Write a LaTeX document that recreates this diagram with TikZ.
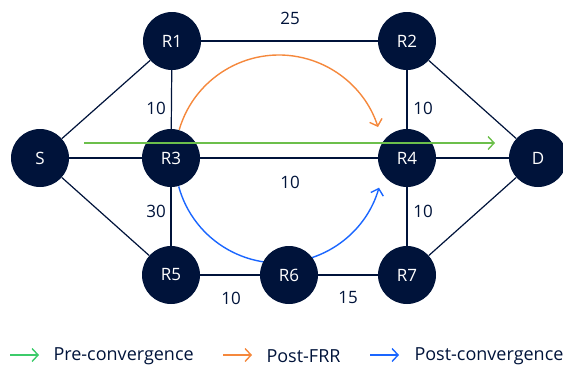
\documentclass[tikz,border=0pt]{standalone}
\usepackage{fontspec}
\setmainfont{Open Sans}
\usetikzlibrary{arrows.meta}
\definecolor{navy}{HTML}{00133A}
\definecolor{pregreen}{HTML}{6CBF4B}
\definecolor{leggreen}{HTML}{3CCB6A}
\definecolor{frrorange}{HTML}{F5883C}
\definecolor{convblue}{HTML}{1A66FF}
\tikzset{
  router/.style={circle, fill=navy, minimum size=58pt, inner sep=0pt,
    text=white, font=\fontsize{17}{17}\selectfont},
  link/.style={draw=navy, line width=1.2pt},
  cost/.style={text=navy, font=\fontsize{17}{17}\selectfont},
  path/.style={line width=1.4pt, -{Straight Barb[length=6pt,width=13pt,line width=1.4pt]}},
  legtext/.style={text=navy, anchor=west, font=\fontsize{18}{18}\selectfont},
}
\begin{document}
\begin{tikzpicture}[x=1pt,y=1pt]
\useasboundingbox[clip] (0,0) rectangle (563,-368);

% arc centre shared by the two rerouted paths
\coordinate (arcc) at (279,-159);

% rerouted paths, under the routers
\draw[path, frrorange] (arcc) ++(163.7:104) arc[start angle=163.7, end angle=17.9, radius=104];
\draw[path, convblue] (arcc) ++(195.3:104) arc[start angle=195.3, end angle=344, radius=104];

% routers
\node[router] (S)  at (40,-158)  {S};
\node[router] (R1) at (172,-41)  {R1};
\node[router] (R2) at (407,-41)  {R2};
\node[router] (R3) at (171,-158) {R3};
\node[router] (R4) at (407,-158) {R4};
\node[router] (D)  at (538,-158) {D};
\node[router] (R5) at (171,-275) {R5};
\node[router] (R6) at (289,-275) {R6};
\node[router] (R7) at (407,-275) {R7};

% links
\draw[link] (S) -- (R1);
\draw[link] (S) -- (R3);
\draw[link] (S) -- (R5);
\draw[link] (R1) -- (R2);
\draw[link] (R1) -- (R3);
\draw[link] (R3) -- (R4);
\draw[link] (R3) -- (R5);
\draw[link] (R2) -- (R4);
\draw[link] (R2) -- (D);
\draw[link] (R4) -- (D);
\draw[link] (R4) -- (R7);
\draw[link] (R5) -- (R6);
\draw[link] (R6) -- (R7);
\draw[link] (R7) -- (D);

% link costs
\node[cost] (c12) at (290,-18)  {25};
\node[cost] (c13) at (156,-108) {10};
\node[cost] (c24) at (423,-108) {10};
\node[cost] (c34) at (290,-182) {10};
\node[cost] (c35) at (156,-211) {30};
\node[cost] (c47) at (423,-211) {10};
\node[cost] (c56) at (231,-298) {10};
\node[cost] (c67) at (348,-298) {15};

% original path, over the routers
\coordinate (gs) at (84,-143);
\coordinate (ge) at (495,-143);
\draw[path, pregreen] (gs) -- (ge);

% legend
\coordinate (l1a) at (10,-355);  \coordinate (l1b) at (39,-355);
\coordinate (l2a) at (223,-355); \coordinate (l2b) at (252,-355);
\coordinate (l3a) at (370,-355); \coordinate (l3b) at (399,-355);
\draw[path, leggreen] (l1a) -- (l1b);
\draw[path, frrorange] (l2a) -- (l2b);
\draw[path, convblue] (l3a) -- (l3b);
\node[legtext] (t1) at (50,-356)  {Pre-convergence};
\node[legtext] (t2) at (263,-356) {Post-FRR};
\node[legtext] (t3) at (411,-356) {Post-convergence};
\end{tikzpicture}
\end{document}
